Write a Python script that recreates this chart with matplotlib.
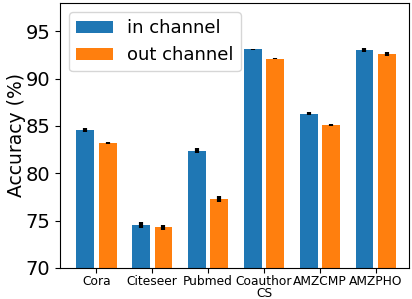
import numpy as np
import matplotlib
matplotlib.use('Agg')
import matplotlib.pyplot as plt

datasets = ['Cora', 'Citeseer', 'Pubmed', 'Coauthor\nCS', 'AMZCMP', 'AMZPHO']
in_channel = [84.6, 74.5, 82.4, 93.1, 86.3, 93.0]
in_err = [0.2, 0.3, 0.3, 0.05, 0.15, 0.2]
out_channel = [83.2, 74.3, 77.3, 92.1, 85.1, 92.6]
out_err = [0.15, 0.25, 0.3, 0.05, 0.15, 0.2]

x = np.arange(len(datasets))
w = 0.32

fig = plt.figure(figsize=(4.12, 2.99), dpi=100)
ax = fig.add_axes([0.146, 0.104, 0.847, 0.886])

ekw = dict(ecolor='black', elinewidth=3, capsize=0)
ax.bar(x - 0.2, in_channel, w, yerr=in_err, color='#1f77b4', label='in channel', error_kw=ekw)
ax.bar(x + 0.2, out_channel, w, yerr=out_err, color='#ff7f0e', label='out channel', error_kw=ekw)

ax.set_ylim(70, 98)
ax.set_xlim(-0.65, 5.6)
ax.set_yticks([70, 75, 80, 85, 90, 95])
ax.set_xticks(x)
ax.set_xticklabels(datasets, fontsize=8.8, linespacing=0.9)
ax.tick_params(axis='x', pad=1.5)
ax.tick_params(axis='y', labelsize=14)
ax.set_ylabel('Accuracy (%)', fontsize=13.5, labelpad=0)
ax.legend(loc='upper left', fontsize=13, handlelength=2.0, labelspacing=0.5)

fig.savefig('out.png', dpi=100)
